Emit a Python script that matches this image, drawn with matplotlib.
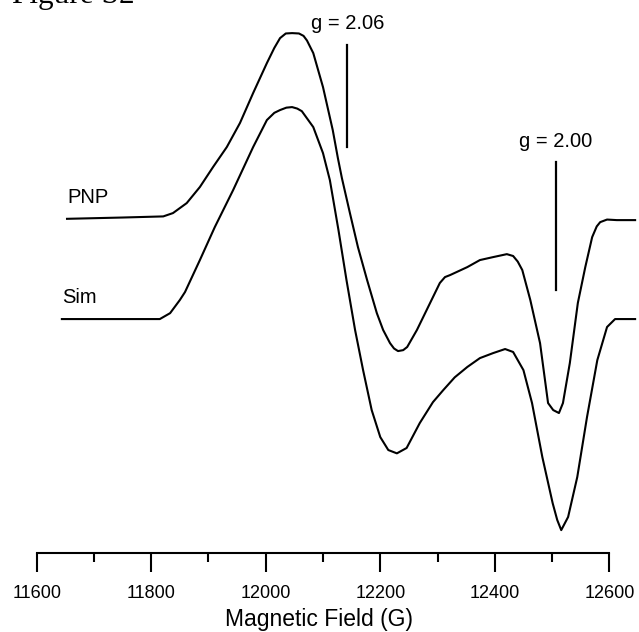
import matplotlib
matplotlib.use("Agg")
import matplotlib.pyplot as plt
from matplotlib.ticker import MultipleLocator
import numpy as np

plt.rcParams['font.family'] = ['Liberation Sans', 'DejaVu Sans']

# measured spectrum (PNP), field in G, derivative signal in a.u.
pnp_field = [11653, 11750, 11821, 11838, 11850, 11862, 11885, 11908, 11932, 11955,
             11978, 12002, 12015, 12025, 12035, 12046, 12058, 12066, 12072, 12083,
             12100, 12117, 12126, 12133, 12141, 12147, 12161, 12177, 12194, 12205,
             12217, 12224, 12231, 12240, 12247, 12264, 12287, 12304, 12313, 12322,
             12352, 12374, 12397, 12421, 12432, 12440, 12448, 12462, 12479, 12493,
             12502, 12512, 12519, 12531, 12545, 12558, 12570, 12578, 12584, 12596,
             12613, 12645]
pnp_signal = [-0.4, 0.3, 0.9, 2.7, 5.4, 8.1, 16.8, 27.6, 38.4, 51.4,
              67.6, 83.8, 92.0, 97.3, 99.8, 100.0, 99.8, 98.5, 96.0, 89.2,
              70.8, 47.6, 32.4, 21.6, 10.8, 2.7, -15.7, -33.5, -51.4, -60.5,
              -67.6, -70.5, -71.9, -71.4, -69.7, -60.5, -45.9, -35.1, -31.9, -30.8,
              -26.5, -22.7, -21.1, -19.5, -20.5, -23.5, -28.1, -44.3, -67.6, -100.0,
              -103.8, -105.4, -100.0, -78.4, -45.9, -26.5, -10.3, -4.5, -2.2, -0.8,
              -1.1, -1.1]

# simulated spectrum
sim_field = [11644, 11750, 11815, 11833, 11850, 11859, 11885, 11911, 11943, 11978,
             12002, 12015, 12025, 12036, 12046, 12055, 12063, 12083, 12100, 12112,
             12127, 12141, 12156, 12170, 12185, 12200, 12214, 12229, 12246, 12269,
             12292, 12310, 12330, 12352, 12374, 12397, 12418, 12432, 12450, 12465,
             12483, 12501, 12509, 12516, 12528, 12544, 12561, 12579, 12596, 12610,
             12645]
sim_signal = [0.0, 0.0, 0.0, 3.2, 10.3, 14.6, 31.9, 49.7, 69.7, 93.0,
              107.6, 111.5, 113.0, 114.3, 114.6, 113.8, 112.4, 103.8, 89.7, 75.1,
              48.1, 21.1, -5.9, -27.6, -49.2, -63.8, -70.8, -72.6, -69.7, -56.2,
              -44.9, -38.4, -31.5, -25.9, -21.1, -18.4, -16.2, -17.8, -27.6, -45.4,
              -74.6, -99.5, -108.6, -114.1, -107.0, -85.4, -53.0, -22.2, -4.3, 0.0,
              0.0]

pnp_offset = 180.9
sim_offset = 126.3

# g markers, field from resonance condition at the microwave frequency
mw_freq_mhz = 35010.0
g_values = [2.06, 2.00]
g_labels = ["g = 2.06", "g = 2.00"]
g_line_spans = [(219.3, 274.4), (142.0, 211.2)]
g_text_y = [282.9, 219.1]

x_ticks = [11600, 11800, 12000, 12200, 12400, 12600]

fig = plt.figure(figsize=(6.39, 6.32), dpi=100)
ax = fig.add_axes([0.0574, 0.1255, 0.9426, 0.8745])

ax.plot(pnp_field, np.array(pnp_signal) + pnp_offset, color="black", lw=1.5)
ax.plot(sim_field, np.array(sim_signal) + sim_offset, color="black", lw=1.5)

for g, lab, (y0, y1), ty in zip(g_values, g_labels, g_line_spans, g_text_y):
    b = 0.714477 * mw_freq_mhz / g
    ax.plot([b, b], [y0, y1], color="black", lw=1.6)
    ax.text(b, ty, lab, ha="center", va="baseline", fontsize=14.5)

ax.text(11653, 189.2, "PNP", ha="left", va="baseline", fontsize=14.5)
ax.text(11644, 135.1, "Sim", ha="left", va="baseline", fontsize=14.5)

ax.set_xlim(11600, 12651.8)
ax.set_ylim(0, 298.8)

for s in ["top", "right", "left"]:
    ax.spines[s].set_visible(False)
ax.spines["bottom"].set_bounds(11600, 12600)
ax.spines["bottom"].set_linewidth(1.5)
ax.set_yticks([])
ax.set_xticks(x_ticks)
ax.xaxis.set_minor_locator(MultipleLocator(100))
ax.tick_params(axis="x", which="major", direction="out", length=13.7, width=1.5,
               labelsize=13, pad=9.5)
ax.tick_params(axis="x", which="minor", direction="out", length=6.5, width=1.5)
ax.set_xticklabels([str(t) for t in x_ticks])

ax.set_xlabel("Magnetic Field (G)", fontsize=16.5)
ax.xaxis.set_label_coords(0.4687, -0.132)
ax.xaxis.label.set_verticalalignment("baseline")

fig.text(12 / 639, 1 - 3 / 632, "Figure S2", family=["Liberation Serif"],
         fontsize=22.5, ha="left", va="baseline")

fig.savefig("out.png", dpi=100)
